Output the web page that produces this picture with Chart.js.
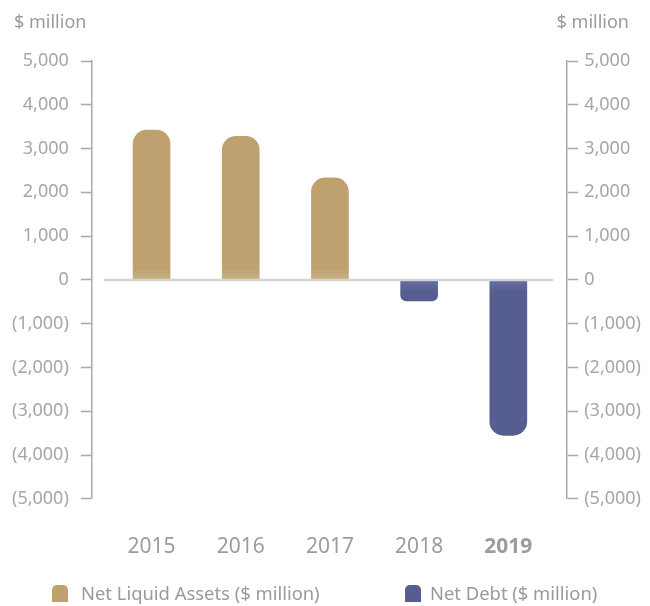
<!DOCTYPE html>
<html>
<head>
<meta charset="utf-8">
<script src="https://cdn.jsdelivr.net/npm/chart.js@4.4.1/dist/chart.umd.min.js"></script>
<style>
  html, body { margin: 0; padding: 0; background: #fff; }
  .wrap { position: relative; width: 650px; height: 606px; }
  .unit { position: absolute; top: 9px; font: 18px "Noto Sans", sans-serif; color: #9a9a9a; }
  #unitLeft { left: 14px; }
  #unitRight { right: 21px; }
  .legend { position: absolute; top: 580px; font: 18.4px "Noto Sans", sans-serif; color: #9a9a9a; white-space: nowrap; }
  .legend span.box { display: inline-block; width: 16px; height: 17px; border-radius: 5px 5px 0 0; vertical-align: -2px; }
  #legendAssets { left: 52px; }
  #legendDebt { left: 405px; }
  #boxAssets { margin-right: 13px; }
  #boxDebt { margin-right: 9px; }
</style>
</head>
<body>
<div class="wrap">
  <canvas id="debtChart" width="650" height="606"></canvas>
  <div class="unit" id="unitLeft">$ million</div>
  <div class="unit" id="unitRight">$ million</div>
  <div class="legend" id="legendAssets"><span class="box" id="boxAssets"></span>Net Liquid Assets ($ million)</div>
  <div class="legend" id="legendDebt"><span class="box" id="boxDebt"></span>Net Debt ($ million)</div>
</div>
<script>
const years = ['2015', '2016', '2017', '2018', '2019'];
const netLiquidAssets = [3420, 3280, 2330, null, null];
const netDebt = [null, null, null, -480, -3550];
const yTickValues = [5000, 4000, 3000, 2000, 1000, 0, -1000, -2000, -3000, -4000, -5000];
const yTickLabels = ['5,000', '4,000', '3,000', '2,000', '1,000', '0', '(1,000)', '(2,000)', '(3,000)', '(4,000)', '(5,000)'];

const gold = '#bfa170';
const goldLight = '#c9b085';
const navy = '#555e8e';
const navyLight = '#6870a0';
const axisGray = '#a9a9a9';
const textGray = '#a6a6a6';
const family = '"Noto Sans", sans-serif';

document.getElementById('boxAssets').style.background = gold;
document.getElementById('boxDebt').style.background = navy;

// fade each bar slightly near the zero line
function barFill(base, light, up) {
    return (ctx) => {
        const chart = ctx.chart;
        if (!chart.chartArea) return base;
        const zero = chart.scales.y.getPixelForValue(0);
        const g = up
            ? chart.ctx.createLinearGradient(0, zero - 12, 0, zero)
            : chart.ctx.createLinearGradient(0, zero + 12, 0, zero);
        g.addColorStop(0, base);
        g.addColorStop(1, light);
        return g;
    };
}

const zeroLine = {
    id: 'zeroLine',
    afterDatasetsDraw(chart) {
        const { ctx, chartArea } = chart;
        const y = chart.scales.y.getPixelForValue(0);
        ctx.save();
        ctx.strokeStyle = '#d4d4d4';
        ctx.lineWidth = 2.5;
        ctx.beginPath();
        ctx.moveTo(chartArea.left + 12, y);
        ctx.lineTo(chartArea.right - 14, y);
        ctx.stroke();
        ctx.restore();
    }
};

function yAxis(position, pad) {
    return {
        position: position,
        min: -5000,
        max: 5000,
        afterBuildTicks: (scale) => {
            scale.ticks = yTickValues.map(v => ({ value: v }));
        },
        ticks: {
            callback: (v) => yTickLabels[yTickValues.indexOf(v)],
            padding: pad,
            color: textGray,
            font: { family: family, size: 18 }
        },
        grid: {
            drawOnChartArea: false,
            tickLength: 11,
            tickWidth: 1.5,
            color: axisGray
        },
        border: { color: axisGray, width: 1.5 }
    };
}

function drawChart() {
    new Chart(document.getElementById('debtChart'), {
        type: 'bar',
        data: {
            datasets: [{
                label: 'Net Liquid Assets ($ million)',
                data: years.map((yr, i) => ({ x: i, y: netLiquidAssets[i] })),
                backgroundColor: barFill(gold, goldLight, true),
                borderRadius: 14
            }, {
                label: 'Net Debt ($ million)',
                data: years.map((yr, i) => ({ x: i, y: netDebt[i] })),
                backgroundColor: barFill(navy, navyLight, false),
                borderRadius: (ctx) => ctx.dataIndex === 3 ? 6 : 14
            }]
        },
        options: {
            responsive: false,
            animation: false,
            layout: { padding: { top: 61, left: 0, right: 3, bottom: 42 } },
            datasets: {
                bar: { barThickness: 37, grouped: false, borderSkipped: 'start' }
            },
            plugins: {
                legend: { display: false },
                tooltip: { enabled: false }
            },
            scales: {
                x: {
                    type: 'linear',
                    offset: false,
                    min: -0.67,
                    max: 4.66,
                    afterBuildTicks: (scale) => {
                        scale.ticks = years.map((yr, i) => ({ value: i }));
                    },
                    ticks: {
                        callback: (v) => years[v],
                        padding: 4,
                        maxRotation: 0,
                        color: '#9c9c9c',
                        font: (ctx) => ({ family: family, size: 21, weight: ctx.index === 4 ? 'bold' : 'normal' })
                    },
                    grid: { display: false, offset: false, drawTicks: true, tickLength: 32 },
                    border: { display: false }
                },
                y: yAxis('left', 12),
                y2: yAxis('right', 6)
            }
        },
        plugins: [zeroLine]
    });
}

// make sure the canvas measures text with the real font
Promise.all([
    document.fonts.load('18px "Noto Sans"'),
    document.fonts.load('bold 21px "Noto Sans"')
]).then(drawChart, drawChart);
</script>
</body>
</html>
